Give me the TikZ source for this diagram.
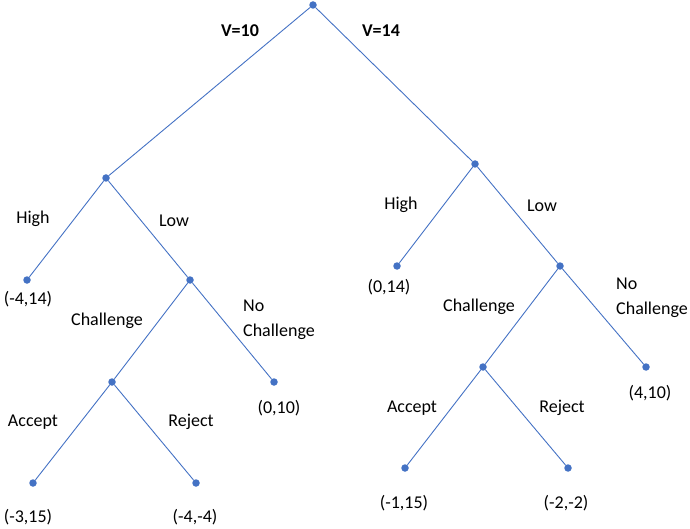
\documentclass[tikz,border=0pt]{standalone}
\usepackage{fontspec}
\setmainfont{Carlito}
\definecolor{treeblue}{HTML}{4472C4}

\begin{document}
\begin{tikzpicture}[x=1pt,y=-1pt]
\tikzstyle{dot}=[circle,fill=treeblue,inner sep=0pt,minimum size=7.5pt]
\tikzstyle{edge}=[draw=treeblue,line width=0.9pt]
\tikzstyle{lbl}=[font=\fontsize{18}{25}\selectfont,inner sep=0pt]
\useasboundingbox (0,0) rectangle (690,529);
% decision points
\node[dot] (root) at (313,5) {};
\node[dot] (p10) at (106,178) {};
\node[dot] (p14) at (475,164) {};
\node[dot] (low10) at (190,280) {};
\node[dot] (low14) at (560,266) {};
\node[dot] (ch10) at (112,382) {};
\node[dot] (ch14) at (483,367) {};
% end points
\node[dot] (high10) at (27,280) {};
\node[dot] (high14) at (397,266) {};
\node[dot] (noch10) at (274,382) {};
\node[dot] (noch14) at (646,367) {};
\node[dot] (acc10) at (33,483) {};
\node[dot] (rej10) at (196,483) {};
\node[dot] (acc14) at (405,468) {};
\node[dot] (rej14) at (568,468) {};
% branches
\draw[edge] (root) -- (p10);
\draw[edge] (root) -- (p14);
\draw[edge] (p10) -- (high10);
\draw[edge] (p10) -- (low10);
\draw[edge] (p14) -- (high14);
\draw[edge] (p14) -- (low14);
\draw[edge] (low10) -- (ch10);
\draw[edge] (low10) -- (noch10);
\draw[edge] (low14) -- (ch14);
\draw[edge] (low14) -- (noch14);
\draw[edge] (ch10) -- (acc10);
\draw[edge] (ch10) -- (rej10);
\draw[edge] (ch14) -- (acc14);
\draw[edge] (ch14) -- (rej14);
% move labels
\node[lbl,font=\fontsize{18}{25}\selectfont\bfseries] (v10) at (240,31) {V=10};
\node[lbl,font=\fontsize{18}{25}\selectfont\bfseries] (v14) at (381,31) {V=14};
\node[lbl] (thigh10) at (33,219) {High};
\node[lbl] (tlow10) at (174,221) {Low};
\node[lbl] (thigh14) at (401,205) {High};
\node[lbl] (tlow14) at (542,206) {Low};
\node[lbl] (tch10) at (107,321) {Challenge};
\node[lbl] (tch14) at (479,307) {Challenge};
\node[lbl,align=left,anchor=west] (tnoch10) at (243,320) {No\\Challenge};
\node[lbl,align=left,anchor=west] (tnoch14) at (616,298) {No\\Challenge};
\node[lbl] (tacc10) at (33,422) {Accept};
\node[lbl] (trej10) at (191,422) {Reject};
\node[lbl] (tacc14) at (412,408) {Accept};
\node[lbl] (trej14) at (562,408) {Reject};
% payoffs
\node[lbl] (ph10) at (28,299) {(-4,14)};
\node[lbl] (ph14) at (389,287) {(0,14)};
\node[lbl] (pn10) at (279,408) {(0,10)};
\node[lbl] (pn14) at (650,393) {(4,10)};
\node[lbl] (pa10) at (28,517) {(-3,15)};
\node[lbl] (pr10) at (195,517) {(-4,-4)};
\node[lbl] (pa14) at (404,503) {(-1,15)};
\node[lbl] (pr14) at (566,503) {(-2,-2)};
\end{tikzpicture}
\end{document}
